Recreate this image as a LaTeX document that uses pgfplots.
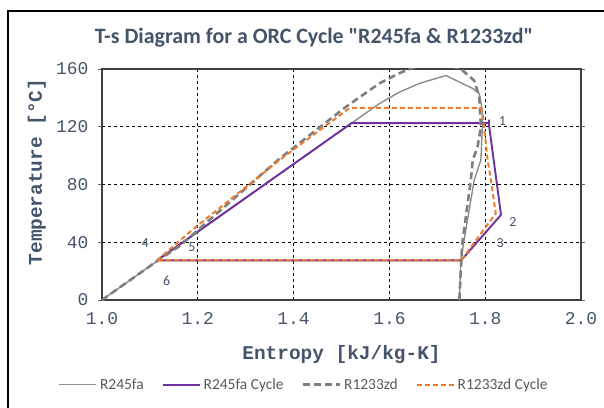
\documentclass[border=0pt]{standalone}
\usepackage{pgfplots}
\pgfplotsset{compat=1.18}
\usepackage{fontspec}
\setmainfont{Carlito}
\setmonofont{Liberation Mono}
\newfontfamily\titlefont{Carlito}[Ligatures=TeXOff]
\definecolor{txt}{HTML}{44546A}
\definecolor{legtxt}{HTML}{595959}
\definecolor{grayA}{HTML}{8C8C8C}
\definecolor{grayB}{HTML}{7F7F7F}
\definecolor{purp}{HTML}{7030A0}
\definecolor{orng}{HTML}{ED7D31}
\begin{document}
\begin{tikzpicture}[x=1bp,y=1bp]
\useasboundingbox (0,0) rectangle (604,407);
\draw[line width=2.5bp,black] (8,-5) -- (8,396) -- (610,396);
\node[font=\titlefont\bfseries\fontsize{22}{24}\selectfont, text=txt] at (314,369) {T-s Diagram for a ORC Cycle "R245fa \& R1233zd"};
\begin{axis}[
  at={(102bp,107bp)}, anchor=south west,
  scale only axis, width=479bp, height=231bp,
  xmin=1, xmax=2, ymin=0, ymax=160,
  xtick={1,1.2,1.4,1.6,1.8,2},
  ytick={0,40,80,120,160},
  xticklabel style={yshift=-5bp, /pgf/number format/.cd, fixed, fixed zerofill, precision=1},
  yticklabel style={xshift=-6bp},
  /pgf/number format/assume math mode=true,
  ticklabel style={font=\ttfamily\fontsize{18}{18}\selectfont, text=txt},
  grid=major,
  major grid style={black, dash pattern=on 3bp off 3bp, line width=0.8bp},
  axis line style={draw=black!75, line width=1.5bp},
  ytick style={draw=black!60, line width=0.8bp},
  xtick style={draw=none},
  tick align=outside,
  major tick length=4bp,
  xlabel={\bfseries Entropy [kJ/kg-K]},
  ylabel={\bfseries Temperature [°C]},
  label style={font=\ttfamily\fontsize{19.5}{19.5}\selectfont, text=txt},
  xlabel style={at={(axis description cs:0.5,-0.236)}, anchor=center},
  ylabel style={at={(axis description cs:-0.136,0.554)}, anchor=center, rotate=0},
  legend columns=4,
  legend style={at={(axis description cs:0.422,-0.366)}, anchor=center, draw=none, fill=none,
    font=\fontsize{15.5}{17}\selectfont, text=legtxt,
    /tikz/every odd column/.append style={column sep=1bp},
    /tikz/every even column/.append style={column sep=16bp}},
  legend image code/.code={\draw[#1] (0bp,0bp) -- (37bp,0bp);},
]
\addplot[grayA, line width=1.4bp, line join=round] coordinates {
(1.0,0) (1.115,27) (1.521,122.5) (1.579,136) (1.621,144) (1.6625,150) (1.718,155.5)
(1.774,146.5) (1.7875,143) (1.794,131.6) (1.794,120) (1.791,97) (1.777,83) (1.749,27.7) (1.746,0)};
\addlegendentry{R245fa}
\addplot[purp, line width=1.9bp] coordinates {
(1.115,27.5) (1.521,122.5) (1.808,122.5) (1.808,125) (1.808,121) (1.833,59) (1.75,27.5) (1.115,27.5)};
\addlegendentry{R245fa Cycle}
\addplot[grayB, line width=2.6bp, dash pattern=on 7bp off 4bp] coordinates {
(1.0,0) (1.115,27) (1.1625,37.5) (1.371,98) (1.51,134) (1.579,150) (1.62,157) (1.65,161) (1.70,164)
(1.748,160.4) (1.777,152) (1.7875,140.8) (1.791,120) (1.784,106) (1.774,97) (1.77,83) (1.752,39) (1.746,0)};
\addlegendentry{R1233zd}
\addplot[orng, line width=2bp, dash pattern=on 5bp off 3bp] coordinates {
(1.115,27.5) (1.19,49) (1.371,97) (1.517,133) (1.791,133) (1.795,128) (1.805,97) (1.812,83) (1.822,60) (1.75,27.5) (1.115,27.5)};
\addlegendentry{R1233zd Cycle}
\node[font=\fontsize{14}{14}\selectfont, text=txt] at (axis cs:1.836,124) {1};
\node[font=\fontsize{14}{14}\selectfont, text=txt] at (axis cs:1.858,54) {2};
\node[font=\fontsize{14}{14}\selectfont, text=txt] at (axis cs:1.831,39.5) {3};
\node[font=\fontsize{14}{14}\selectfont, text=txt] at (axis cs:1.09,39.5) {4};
\node[font=\fontsize{14}{14}\selectfont, text=txt] at (axis cs:1.1875,36.7) {5};
\node[font=\fontsize{14}{14}\selectfont, text=txt] at (axis cs:1.135,13) {6};
\end{axis}
\end{tikzpicture}
\end{document}
